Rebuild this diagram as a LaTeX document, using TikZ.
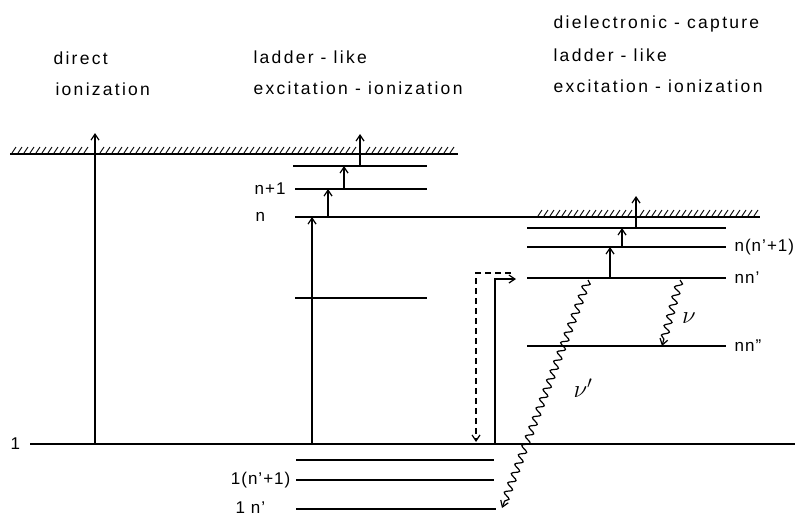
\documentclass[tikz,border=0pt]{standalone}
\usepackage{fontspec}
\setmainfont{Liberation Sans}
\usetikzlibrary{arrows.meta,decorations.pathmorphing}

\begin{document}
\begin{tikzpicture}[x=1pt,y=-1pt,line width=1.2pt,
  up/.style={-{Straight Barb[length=6pt,width=8pt]}},
  lbl/.style={font=\fontsize{17.5}{20}\selectfont\addfontfeature{LetterSpace=13},inner sep=0pt},
  lvl/.style={font=\fontsize{17}{20}\selectfont\addfontfeature{LetterSpace=6},inner sep=0pt},
  title/.style={lbl,anchor=west},
  wave/.style={decorate,decoration={snake,segment length=10pt,amplitude=3.5pt,post length=6pt}},
  hatch/.style={line width=0.9pt}]
\useasboundingbox (0,0) rectangle (804,517);

% column titles
\node[title] (t1a) at (53,58) {direct};
\node[title] (t1b) at (55,89) {ionization};
\node[title] (t2a) at (253,57) {ladder - like};
\node[title] (t2b) at (253,88) {excitation - ionization};
\node[title] (t3a) at (553,24) {dielectronic - capture};
\node[title] (t3b) at (553,55) {ladder - like};
\node[title] (t3c) at (553,86) {excitation - ionization};

% left continuum with hatching
\coordinate (cL1) at (10,154);
\coordinate (cL2) at (458,154);
\draw (cL1) -- (cL2);
\foreach \x in {12,18,...,88,100,106,...,354,366,372,...,452}
  \draw[hatch] (\x,153) -- ++(4,-6);

% ground state
\coordinate (g1) at (30,444);
\coordinate (g2) at (795,444);
\draw (g1) -- (g2);
\node[lvl,anchor=west] (l1) at (10,444) {1};

% direct ionization
\coordinate (dA) at (95,444);
\coordinate (dB) at (95,133);
\draw[up] (dA) -- (dB);

% ladder levels
\coordinate (n1) at (295,217);   \coordinate (n2) at (760,217);
\coordinate (np1) at (295,189);  \coordinate (np2) at (427,189);
\coordinate (nq1) at (293,166);  \coordinate (nq2) at (427,166);
\coordinate (nm1) at (295,298);  \coordinate (nm2) at (427,298);
\draw (n1) -- (n2);
\draw (np1) -- (np2);
\draw (nq1) -- (nq2);
\draw (nm1) -- (nm2);
\node[lvl,anchor=west] (ln) at (255,217) {n};
\node[lvl,anchor=west] (lnp) at (254,189) {n+1};

% ladder arrows
\coordinate (a0) at (312,444); \coordinate (a1) at (312,217);
\coordinate (b0) at (328,217); \coordinate (b1) at (328,189);
\coordinate (c0) at (344,189); \coordinate (c1) at (344,166);
\coordinate (e0) at (360,166); \coordinate (e1) at (360,134);
\draw[up] (a0) -- (a1);
\draw[up] (b0) -- (b1);
\draw[up] (c0) -- (c1);
\draw[up] (e0) -- (e1);

% right continuum hatching (on the n line)
\foreach \x in {538,544,...,628,640,646,...,754}
  \draw[hatch] (\x,216) -- ++(4,-6);

% doubly excited levels
\coordinate (r1a) at (527,228); \coordinate (r1b) at (726,228);
\coordinate (r2a) at (527,247); \coordinate (r2b) at (726,247);
\coordinate (r3a) at (527,278); \coordinate (r3b) at (726,278);
\coordinate (r4a) at (527,346); \coordinate (r4b) at (726,346);
\draw (r1a) -- (r1b);
\draw (r2a) -- (r2b);
\draw (r3a) -- (r3b);
\draw (r4a) -- (r4b);
\node[lvl,anchor=west] (lr2) at (734,247) {n(n'+1)};
\node[lvl,anchor=west] (lr3) at (734,278) {nn'};
\node[lvl,anchor=west] (lr4) at (734,346) {nn''};

% right ladder arrows
\coordinate (f0) at (610,278); \coordinate (f1) at (610,247);
\coordinate (h0) at (622,247); \coordinate (h1) at (622,228);
\coordinate (k0) at (636,228); \coordinate (k1) at (636,196);
\draw[up] (f0) -- (f1);
\draw[up] (h0) -- (h1);
\draw[up] (k0) -- (k1);

% capture (solid) and its inverse (dashed)
\coordinate (s0) at (495,444);
\coordinate (s1) at (495,279);
\coordinate (s2) at (516,279);
\draw[up] (s0) -- (s1) -- (s2);
\coordinate (q0) at (511,273);
\coordinate (q1) at (476,273);
\coordinate (q2) at (476,442);
\draw[up,dash pattern=on 6pt off 4pt] (q0) -- (q1) -- (q2);

% lower singly excited levels
\coordinate (u1a) at (296,460); \coordinate (u1b) at (494,460);
\coordinate (u2a) at (296,480); \coordinate (u2b) at (494,480);
\coordinate (u3a) at (296,509); \coordinate (u3b) at (496,509);
\draw (u1a) -- (u1b);
\draw (u2a) -- (u2b);
\draw (u3a) -- (u3b);
\node[lvl,anchor=east] (lu2) at (291,480) {1(n'+1)};
\node[lvl,anchor=west] (lu3) at (235,508) {1 n'};

% radiative decays
\coordinate (w0) at (680,280); \coordinate (w1) at (662,346);
\draw[up,wave] (w0) -- (w1);
\node[inner sep=0pt,font=\fontsize{24}{26}\selectfont] (nu) at (689,318) {$\nu$};
\coordinate (v0) at (588,280); \coordinate (v1) at (502,508);
\draw[up,wave] (v0) -- (v1);
\node[inner sep=0pt,font=\fontsize{24}{26}\selectfont] (nup) at (583,388) {$\nu'$};
\end{tikzpicture}
\end{document}
